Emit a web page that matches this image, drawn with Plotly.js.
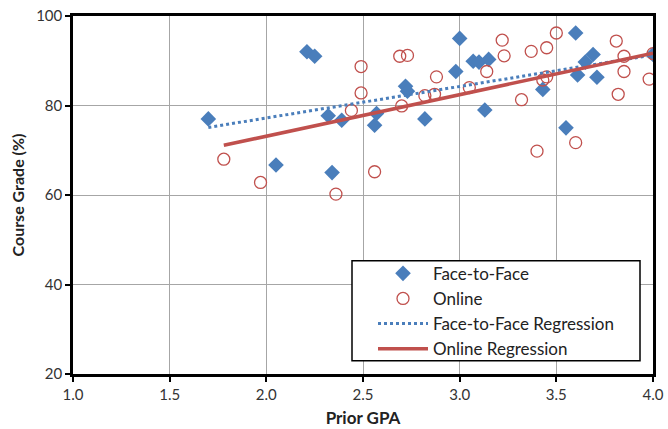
<!DOCTYPE html>
<html>
<head>
<meta charset="utf-8">
<script src="https://cdn.plot.ly/plotly-3.0.1.min.js"></script>
<style>html,body{margin:0;padding:0;background:#fff;}#chart{width:668px;height:429px;}</style>
</head>
<body>
<div id="chart"></div>
<script>
// Face-to-Face data (Prior GPA, Course Grade %)
const ftfGpa   = [1.70, 2.21, 2.25, 2.05, 2.32, 2.39, 2.34, 2.56, 2.57, 2.72, 2.73, 2.82, 2.98, 3.00, 3.07, 3.10, 3.15, 3.13, 3.43, 3.55, 3.60, 3.61, 3.65, 3.69, 3.71, 4.00];
const ftfGrade = [77.0, 92.0, 91.0, 66.7, 77.7, 76.7, 65.0, 75.6, 78.2, 84.3, 83.2, 77.0, 87.6, 95.0, 89.9, 89.7, 90.3, 79.0, 83.6, 75.0, 96.2, 86.8, 89.7, 91.4, 86.3, 91.4];
// Online data
const onGpa   = [1.78, 1.97, 2.36, 2.44, 2.49, 2.49, 2.56, 2.69, 2.73, 2.70, 2.82, 2.87, 2.88, 3.05, 3.14, 3.22, 3.23, 3.32, 3.37, 3.45, 3.50, 3.40, 3.43, 3.45, 3.60, 3.81, 3.85, 3.85, 3.82, 3.98, 4.00];
const onGrade = [68.0, 62.8, 60.2, 78.9, 88.7, 82.8, 65.2, 91.0, 91.2, 79.9, 82.2, 82.5, 86.4, 84.0, 87.6, 94.6, 91.1, 81.3, 92.1, 92.9, 96.2, 69.8, 85.7, 86.4, 71.7, 94.4, 91.0, 87.6, 82.5, 85.9, 91.6];
// Regression lines (endpoints)
const ftfRegGpa = [1.70, 4.00];
const ftfRegGrade = [75.1, 91.3];
const onRegGpa = [1.78, 4.00];
const onRegGrade = [71.1, 91.7];
const xTicks = [1.0, 1.5, 2.0, 2.5, 3.0, 3.5, 4.0];
const yTicks = [20, 40, 60, 80, 100];

const blue = '#4a7ebb', red = '#c0504d';
const traces = [
  {x: ftfGpa, y: ftfGrade, type: 'scatter', mode: 'markers', name: 'Face-to-Face',
   marker: {symbol: 'diamond', size: 12, color: blue}},
  {x: onGpa, y: onGrade, type: 'scatter', mode: 'markers', name: 'Online',
   marker: {symbol: 'circle-open', size: 12, color: red, line: {width: 1.3, color: red}}},
  {x: ftfRegGpa, y: ftfRegGrade, type: 'scatter', mode: 'lines', name: 'Face-to-Face Regression',
   line: {color: blue, width: 3, dash: 'dot'}},
  {x: onRegGpa, y: onRegGrade, type: 'scatter', mode: 'lines', name: 'Online Regression',
   line: {color: red, width: 3.5}}
];
const font = 'Lato, "Open Sans", sans-serif';
// plot area in pixels: x 73..653, y 16..374.3
const px = v => (v - 73) / 580;
const py = v => (374.3 - v) / 358.3;
const layout = {
  width: 668, height: 429,
  margin: {l: 73, r: 15, t: 16, b: 55},
  paper_bgcolor: '#fff', plot_bgcolor: '#fff',
  font: {family: font, size: 15, color: '#222'},
  showlegend: true,
  xaxis: {range: [1, 4], tickvals: xTicks, ticktext: xTicks.map(v => v.toFixed(1)),
    showgrid: true, gridcolor: '#a6a6a6', gridwidth: 1, zeroline: false,
    showline: true, linecolor: '#000', linewidth: 2.5, mirror: true,
    ticks: 'outside', ticklen: 5, tickwidth: 1.5, tickcolor: '#000',
    tickfont: {family: font, size: 15, color: '#333'},
    title: {text: '<b>Prior GPA</b>', font: {family: font, size: 17, color: '#222'}, standoff: 11}},
  yaxis: {range: [20, 100], tickvals: yTicks,
    showgrid: true, gridcolor: '#a6a6a6', gridwidth: 1, zeroline: false,
    showline: true, linecolor: '#000', linewidth: 2.5, mirror: true,
    ticks: 'outside', ticklen: 5, tickwidth: 1.5, tickcolor: '#000',
    tickfont: {family: font, size: 15, color: '#333'},
    title: {text: '<b>Course Grade (%)</b>', font: {family: font, size: 16, color: '#222'}, standoff: 8}},
  shapes: [{type: 'rect', xref: 'paper', yref: 'paper', layer: 'above',
    x0: px(352), x1: px(640), y0: py(361), y1: py(261),
    fillcolor: '#fff', line: {color: '#000', width: 1.5}}],
  legend: {xref: 'paper', yref: 'paper',
    x: px(373), y: py(256), xanchor: 'left', yanchor: 'top',
    bgcolor: 'rgba(0,0,0,0)', borderwidth: 0,
    font: {family: font, size: 17, color: '#222'}, itemwidth: 50}
};
Plotly.newPlot('chart', traces, layout, {displayModeBar: false});
</script>
</body>
</html>
